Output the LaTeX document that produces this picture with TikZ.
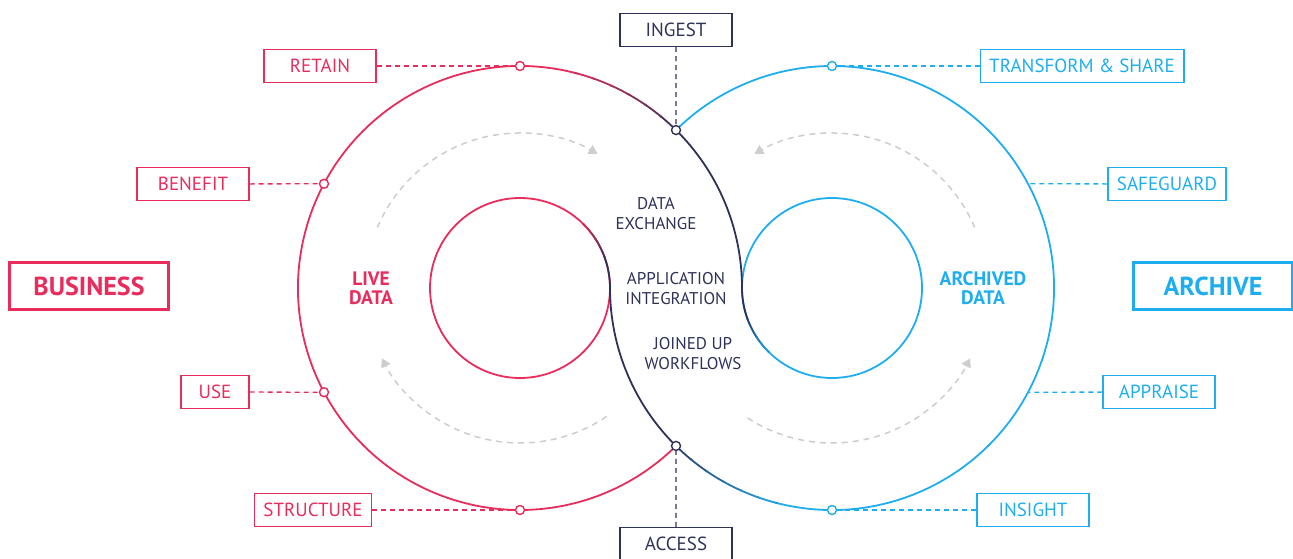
\documentclass[tikz,border=0pt]{standalone}
\usepackage{fontspec}
\setmainfont{PT Sans}
\usetikzlibrary{arrows.meta}
\definecolor{livered}{HTML}{E82C5C}
\definecolor{archblue}{HTML}{1EAEF0}
\definecolor{navy}{HTML}{2E3258}
\definecolor{flowgray}{HTML}{CDCDCD}
\tikzstyle{Link} = [
%dashed leader from a tag to its ring:
line width=1.3pt, dash pattern=on 5pt off 4pt
]
\tikzstyle{Flow} = [
%grey dashed turn arrow inside a ring:
line width=1.5pt, draw=flowgray, dash pattern=on 6pt off 5pt,
-{Triangle[length=8.7pt, width=10pt, fill=flowgray]}
]

\begin{document}
\begin{tikzpicture}[x=1pt, y=1pt,
			tag/.style = {rectangle, draw, line width=1.4pt, minimum width=112, minimum height=33, inner xsep=9, font=\fontsize{19}{22}\selectfont},
			redtag/.style = {tag, draw=livered, text=livered},
			bluetag/.style = {tag, draw=archblue, text=archblue},
			navytag/.style = {tag, draw=navy, text=navy},
			hub/.style = {rectangle, line width=3pt, minimum width=159, minimum height=47, font=\fontsize{26}{30}\selectfont\bfseries},
			ring/.style = {line width=1.8pt},
			knot/.style = {circle, line width=1.4pt, fill=white, minimum size=9, inner sep=0pt},
			caption/.style = {align=center, font=\fontsize{17}{20}\selectfont, text=navy},
			zone/.style = {align=center, font=\fontsize{19.5}{19}\selectfont\bfseries},
		]
		\useasboundingbox (0,0) rectangle (1293,558);
		\coordinate (CL) at (520,270);
		\coordinate (CR) at (832,270);

		% rings
		\draw[ring, livered] (CL) circle[radius=90];
		\draw[ring, archblue] (CR) circle[radius=90];
		\draw[ring, livered] (CL) ++(75:222) arc[start angle=75, end angle=314.65, radius=222];
		\draw[ring, archblue] (CR) ++(255:222) arc[start angle=255, end angle=494.65, radius=222];
		\draw[ring, navy] (CL) ++(0:222) arc[start angle=0, end angle=45.6, radius=222];
		\draw[ring, navy] (CR) ++(180:222) arc[start angle=180, end angle=225.6, radius=222];
		\draw[ring, navy] (CL) ++(0:90) arc[start angle=0, end angle=20.5, radius=90];
		\draw[ring, navy] (CR) ++(180:90) arc[start angle=180, end angle=200.5, radius=90];
		\foreach \i in {0,...,5}{
			\pgfmathsetmacro\s{45.35+5*\i}
			\pgfmathsetmacro\e{\s+5.6}
			\pgfmathsetmacro\t{\s+180}
			\pgfmathsetmacro\f{\e+180}
			\pgfmathsetmacro\u{20+4.2*\i}
			\pgfmathsetmacro\v{\u+4.7}
			\pgfmathsetmacro\w{\u+180}
			\pgfmathsetmacro\z{\v+180}
			\pgfmathtruncatemacro\p{15+14*\i}
			\draw[ring, livered!\p!navy] (CL) ++(\s:222) arc[start angle=\s, end angle=\e, radius=222];
			\draw[ring, archblue!\p!navy] (CR) ++(\t:222) arc[start angle=\t, end angle=\f, radius=222];
			\draw[ring, livered!\p!navy] (CL) ++(\u:90) arc[start angle=\u, end angle=\v, radius=90];
			\draw[ring, archblue!\p!navy] (CR) ++(\w:90) arc[start angle=\w, end angle=\z, radius=90];
		}

		% turn arrows
		\draw[Flow] (CL) ++(157:155) arc[start angle=157, end angle=60, radius=155];
		\draw[Flow] (CL) ++(-56:155) arc[start angle=-56, end angle=-153, radius=155];
		\draw[Flow] (CR) ++(23:155) arc[start angle=23, end angle=120, radius=155];
		\draw[Flow] (CR) ++(-123:155) arc[start angle=-123, end angle=-27, radius=155];

		% tags
		\node[redtag] (retain) at (320,492) {RETAIN};
		\node[redtag] (benefit) at (193,374) {BENEFIT};
		\node[redtag, minimum width=68] (use) at (215,166) {USE};
		\node[redtag] (structure) at (313,48) {STRUCTURE};
		\node[bluetag] (transform) at (1082,492) {TRANSFORM \& SHARE};
		\node[bluetag] (safeguard) at (1167,374) {SAFEGUARD};
		\node[bluetag] (appraise) at (1159,166) {APPRAISE};
		\node[bluetag] (insight) at (1033,48) {INSIGHT};
		\node[navytag] (ingest) at (676,528) {INGEST};
		\node[navytag] (access) at (676,14) {ACCESS};
		\node[hub, draw=livered, text=livered] (business) at (89,272) {BUSINESS};
		\node[hub, draw=archblue, text=archblue] (archive) at (1213,272) {ARCHIVE};

		% points on the rings
		\node[knot, draw=livered] (kRetain) at ([shift={(90:222)}]CL) {};
		\node[knot, draw=livered] (kBenefit) at ([shift={(152:222)}]CL) {};
		\node[knot, draw=livered] (kUse) at ([shift={(208:222)}]CL) {};
		\node[knot, draw=livered] (kStructure) at ([shift={(270:222)}]CL) {};
		\node[knot, draw=archblue] (kTransform) at ([shift={(90:222)}]CR) {};
		\coordinate (kSafeguard) at ([shift={(28:222)}]CR);
		\coordinate (kAppraise) at ([shift={(-28:222)}]CR);
		\node[knot, draw=archblue] (kInsight) at ([shift={(270:222)}]CR) {};
		\node[knot, draw=navy] (kIngest) at ([shift={(45.35:222)}]CL) {};
		\node[knot, draw=navy] (kAccess) at ([shift={(-45.35:222)}]CL) {};

		\draw[Link, livered] (retain) -- (kRetain);
		\draw[Link, livered] (benefit) -- (kBenefit);
		\draw[Link, livered] (use) -- (kUse);
		\draw[Link, livered] (structure) -- (kStructure);
		\draw[Link, archblue] (transform) -- (kTransform);
		\draw[Link, archblue] (safeguard) -- (kSafeguard);
		\draw[Link, archblue] (appraise) -- (kAppraise);
		\draw[Link, archblue] (insight) -- (kInsight);
		\draw[Link, navy] (ingest) -- (kIngest);
		\draw[Link, navy] (access) -- (kAccess);

		% middle texts
		\node[caption] (exchange) at (656,344) {DATA\\EXCHANGE};
		\node[caption] (integration) at (676,269) {APPLICATION\\INTEGRATION};
		\node[caption] (workflows) at (693,204) {JOINED UP\\WORKFLOWS};
		\node[zone, text=livered] (live) at (371,270) {LIVE\\DATA};
		\node[zone, text=archblue] (archived) at (983,270) {ARCHIVED\\DATA};

	\end{tikzpicture}
\end{document}
